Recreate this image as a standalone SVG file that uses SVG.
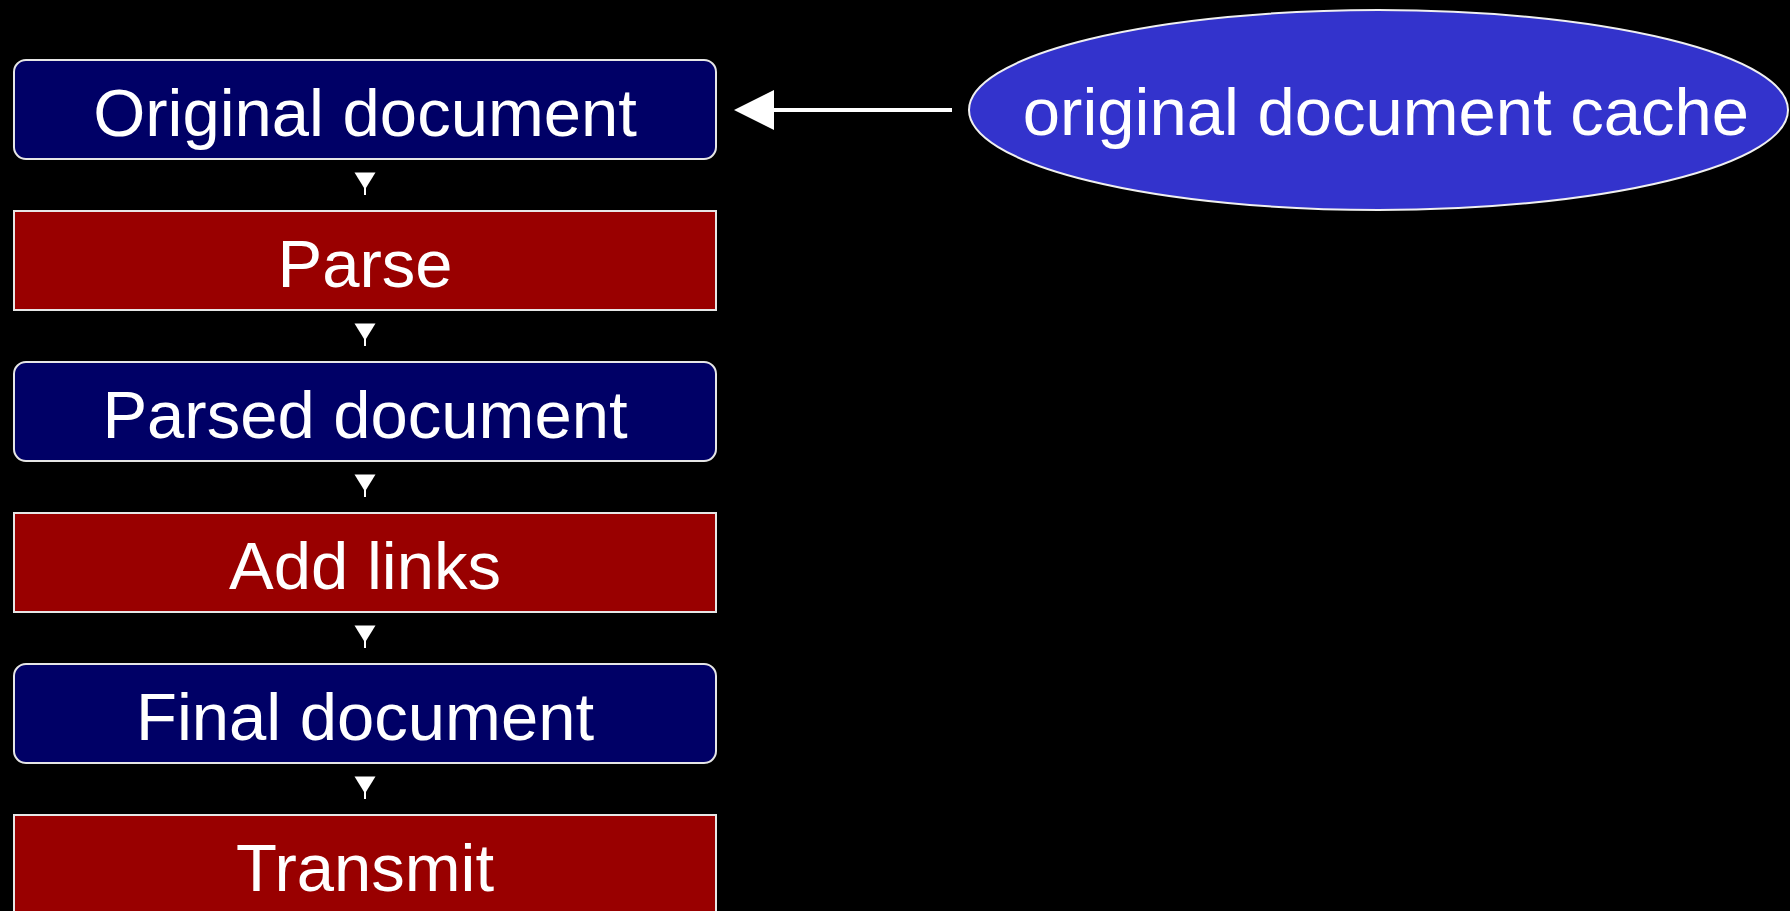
<svg xmlns="http://www.w3.org/2000/svg" xmlns:xlink="http://www.w3.org/1999/xlink" width="1790" height="911" viewBox="0 0 1790 911">
  <style>
    .label { font-family: "Liberation Sans", Arial, sans-serif; font-size: 67px; fill: #ffffff; text-anchor: middle; }
    .data { fill: #000066; stroke: #e6e6e6; stroke-width: 2; }
    .step { fill: #990000; stroke: #e6e6e6; stroke-width: 2; }
    .cache { fill: #3333cc; stroke: #f0f0f0; stroke-width: 2; }
    .link { stroke: #ffffff; fill: none; }
    .head { fill: #ffffff; }
  </style>
  <defs>
    <!-- small downward arrowhead used between stacked stages -->
    <g id="down">
      <polygon class="head" points="-10.5,12.5 10.5,12.5 0,29.5"/>
      <line class="link" x1="0" y1="28" x2="0" y2="35" stroke-width="2"/>
    </g>
  </defs>
  <rect width="1790" height="911" fill="#000000"/>

  <g id="connectors">
    <use xlink:href="#down" x="365" y="160"/>
    <use xlink:href="#down" x="365" y="311"/>
    <use xlink:href="#down" x="365" y="462"/>
    <use xlink:href="#down" x="365" y="613"/>
    <use xlink:href="#down" x="365" y="764"/>
    <line class="link" x1="772" y1="110" x2="952" y2="110" stroke-width="4"/>
    <polygon class="head" points="734,110 774,90 774,130"/>
  </g>

  <g id="original-document">
    <rect class="data" x="14" y="60" width="702" height="99" rx="12" ry="12"/>
    <text class="label" x="365" y="136">Original document</text>
  </g>
  <g id="parse">
    <rect class="step" x="14" y="211" width="702" height="99"/>
    <text class="label" x="365" y="287">Parse</text>
  </g>
  <g id="parsed-document">
    <rect class="data" x="14" y="362" width="702" height="99" rx="12" ry="12"/>
    <text class="label" x="365" y="438">Parsed document</text>
  </g>
  <g id="add-links">
    <rect class="step" x="14" y="513" width="702" height="99"/>
    <text class="label" x="365" y="589">Add links</text>
  </g>
  <g id="final-document">
    <rect class="data" x="14" y="664" width="702" height="99" rx="12" ry="12"/>
    <text class="label" x="365" y="740">Final document</text>
  </g>
  <g id="transmit">
    <rect class="step" x="14" y="815" width="702" height="99"/>
    <text class="label" x="365" y="891">Transmit</text>
  </g>
  <g id="original-document-cache">
    <ellipse class="cache" cx="1378.5" cy="110" rx="409.5" ry="100"/>
    <text class="label" x="1386" y="135">original document cache</text>
  </g>
</svg>
